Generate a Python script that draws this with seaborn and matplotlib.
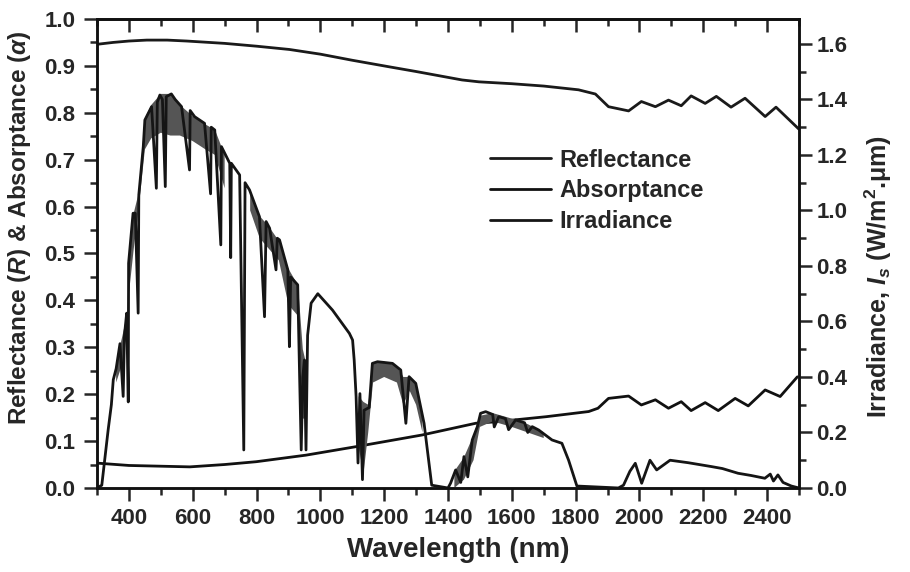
import numpy as np
import pandas as pd
import matplotlib
matplotlib.use("Agg")
import matplotlib.pyplot as plt
import seaborn as sns
from matplotlib.ticker import MultipleLocator

# reflectance / absorptance (left axis)
refl_wl = [300, 350, 400, 456, 520, 581, 700, 800, 903, 1000, 1100, 1216, 1300, 1444, 1497,
           1600, 1700, 1809, 1862, 1903, 1966, 2006, 2050, 2091, 2131, 2162, 2206, 2241,
           2287, 2331, 2394, 2428, 2500]
refl_val = [0.946, 0.950, 0.953, 0.955, 0.955, 0.953, 0.948, 0.942, 0.935, 0.925, 0.912,
            0.898, 0.888, 0.870, 0.866, 0.862, 0.857, 0.849, 0.840, 0.813, 0.804, 0.824,
            0.813, 0.827, 0.815, 0.836, 0.820, 0.835, 0.812, 0.831, 0.792, 0.812, 0.765]

abs_wl = [300, 400, 591, 700, 799, 955, 1111, 1319, 1487, 1549, 1708, 1841, 1870, 1903,
          1966, 2006, 2050, 2091, 2131, 2162, 2206, 2247, 2300, 2341, 2394, 2441, 2495]
abs_val = [0.053, 0.048, 0.045, 0.050, 0.056, 0.070, 0.088, 0.113, 0.138, 0.141, 0.152,
           0.163, 0.170, 0.191, 0.196, 0.177, 0.188, 0.170, 0.184, 0.165, 0.182, 0.165,
           0.191, 0.175, 0.209, 0.195, 0.237]

# solar irradiance (right axis)
irr_wl = [300, 315, 335, 345, 351, 360, 372, 382, 386, 393, 398, 399, 413, 420, 429, 431,
          445, 450, 471, 486, 489, 497, 505, 514, 517, 533, 545, 565, 590, 592, 606, 637,
          656, 658, 669, 688, 690, 716, 719, 721, 747, 760, 764, 778, 809, 825, 830, 841,
          861, 865, 872, 898, 903, 907, 929, 935, 940, 945, 950, 955, 960, 971, 992, 1038,
          1091, 1101, 1106, 1112, 1118, 1124, 1132, 1137, 1153, 1163, 1179, 1226, 1252,
          1268, 1278, 1299, 1325, 1349, 1400, 1408, 1424, 1440, 1450, 1462, 1476, 1492,
          1502, 1518, 1540, 1545, 1559, 1580, 1590, 1612, 1640, 1650, 1664, 1684, 1726,
          1757, 1778, 1804, 1934, 1950, 1970, 1987, 2007, 2033, 2054, 2096, 2153, 2226,
          2260, 2309, 2350, 2393, 2410, 2420, 2434, 2450, 2476, 2500]
irr_val = [0.0, 0.01, 0.21, 0.30, 0.39, 0.43, 0.52, 0.33, 0.55, 0.63, 0.31, 0.81, 0.99, 0.99,
           0.63, 1.056, 1.23, 1.326, 1.374, 1.08, 1.39, 1.416, 1.40, 1.086, 1.41, 1.42, 1.40,
           1.374, 1.146, 1.36, 1.338, 1.314, 1.06, 1.30, 1.29, 0.876, 1.23, 1.17, 0.83, 1.17,
           1.128, 0.137, 1.10, 1.074, 0.978, 0.617, 0.96, 0.936, 0.786, 0.90, 0.894, 0.786,
           0.509, 0.76, 0.732, 0.40, 0.137, 0.40, 0.461, 0.137, 0.55, 0.666, 0.70, 0.641,
           0.557, 0.533, 0.461, 0.33, 0.09, 0.34, 0.03, 0.28, 0.29, 0.449, 0.455, 0.449,
           0.425, 0.233, 0.401, 0.377, 0.233, 0.01, 0.0, 0.017, 0.065, 0.02, 0.113, 0.04,
           0.173, 0.221, 0.269, 0.275, 0.265, 0.22, 0.257, 0.25, 0.21, 0.245, 0.235, 0.20,
           0.221, 0.209, 0.173, 0.161, 0.10, 0.007, 0.0, 0.01, 0.06, 0.089, 0.017, 0.10,
           0.065, 0.10, 0.091, 0.077, 0.07, 0.053, 0.045, 0.035, 0.05, 0.025, 0.047, 0.02,
           0.007, 0.0]

# dense noisy parts of the spectrum (grey band), NaN = gap
band_wl = [360, 380, 395, 400, 415, 430, 450, 470, 500, 530, 560, 600, 640, 670, 690, 700,
           740, 780, 810, 840, 870, 900, 930, 945, 955,
           1000, 1120, 1135, 1150, 1165, 1200, 1240, 1260, 1280, 1300, 1320,
           1380, 1420, 1450, 1480, 1500, 1540, 1600, 1650, 1700]
band_top = [0.45, 0.55, 0.63, 0.81, 0.99, 1.06, 1.33, 1.38, 1.42, 1.42, 1.38, 1.34, 1.31,
            1.29, 1.23, 1.20,
            np.nan, 1.07, 0.98, 0.94, 0.89, 0.79, 0.73, 0.50, 0.45,
            np.nan, 0.33, 0.31, 0.30, 0.45, 0.455, 0.44, 0.40, 0.40, 0.377, 0.26,
            np.nan, 0.06, 0.11, 0.19, 0.26, 0.27, 0.25, 0.23, 0.20]
band_bot = [0.38, 0.45, 0.58, 0.70, 0.86, 1.00, 1.22, 1.26, 1.28, 1.27, 1.27, 1.25, 1.22,
            1.20, 1.12, 1.08,
            np.nan, 1.00, 0.90, 0.86, 0.82, 0.66, 0.62, 0.25, 0.25,
            np.nan, 0.15, 0.05, 0.20, 0.38, 0.40, 0.38, 0.30, 0.35, 0.30, 0.20,
            np.nan, 0.00, 0.03, 0.10, 0.22, 0.24, 0.22, 0.20, 0.18]

left_ticks = np.arange(0, 1.01, 0.1)
right_ticks = np.arange(0, 1.61, 0.2)

sns.set_style("ticks")
plt.rcParams['font.family'] = ['Liberation Sans', 'DejaVu Sans']
plt.rcParams['font.weight'] = 'bold'
plt.rcParams['mathtext.fontset'] = 'custom'
plt.rcParams['mathtext.rm'] = 'Liberation Sans:bold'
plt.rcParams['mathtext.it'] = 'Liberation Sans:italic:bold'

fig = plt.figure(figsize=(9.1, 5.72), dpi=100)
ax = fig.add_axes([0.1066, 0.1469, 0.7714, 0.8199])
ax2 = ax.twinx()

sns.lineplot(x=refl_wl, y=refl_val, ax=ax, color='#1a1a1a', linewidth=2,
             estimator=None, sort=False)
sns.lineplot(x=abs_wl, y=abs_val, ax=ax, color='#111111', linewidth=2,
             estimator=None, sort=False)

ax2.fill_between(band_wl, band_bot, band_top, color='#555555', linewidth=0)
sns.lineplot(x=irr_wl, y=irr_val, ax=ax2, color='#151515', linewidth=2,
             estimator=None, sort=False)

ax.set_xlim(300, 2500)
ax.set_ylim(0, 1.0)
ax2.set_ylim(0, 1.69)

ax.set_xticks(range(400, 2401, 200))
ax.xaxis.set_minor_locator(MultipleLocator(100))
ax.set_yticks(left_ticks)
ax.set_yticklabels([f"{v:.1f}" for v in left_ticks])
ax.yaxis.set_minor_locator(MultipleLocator(0.05))
ax2.set_yticks(right_ticks)
ax2.set_yticklabels([f"{v:.1f}" for v in right_ticks])
ax2.yaxis.set_minor_locator(MultipleLocator(0.1))

# bottom / left / right ticks point out, top ticks point in
ax.tick_params(axis='x', which='major', direction='out', length=9.5, width=1.8,
               labelsize=16, pad=5)
ax.tick_params(axis='x', which='minor', direction='out', length=5, width=1.8)
ax.tick_params(axis='y', which='major', direction='out', length=9.5, width=1.8,
               labelsize=16, pad=6)
ax.tick_params(axis='y', which='minor', direction='out', length=5, width=1.8)
ax2.tick_params(axis='y', which='major', direction='out', length=9.5, width=1.8,
                labelsize=16, pad=3)
ax2.tick_params(axis='y', which='minor', direction='out', length=5, width=1.8)

top = ax.secondary_xaxis('top')
top.set_xticks(range(400, 2401, 200))
top.xaxis.set_minor_locator(MultipleLocator(100))
top.tick_params(axis='x', which='major', direction='in', length=9.5, width=1.8,
                labeltop=False)
top.tick_params(axis='x', which='minor', direction='in', length=5, width=1.8)
top.spines['top'].set_linewidth(1.8)

for a in (ax, ax2):
    for s in a.spines.values():
        s.set_linewidth(1.8)
        s.set_color('#111111')

ax.set_xlabel('Wavelength (nm)', fontsize=20, fontweight='bold')
ax.xaxis.set_label_coords(0.515, -0.105)
ax.xaxis.label.set_verticalalignment('top')
ax.set_ylabel(r'Reflectance ($R$) & Absorptance ($\alpha$)', fontsize=17.5,
              fontweight='bold')
ax.yaxis.set_label_coords(-0.091, 0.554)
ax2.set_ylabel('Irradiance, $I_s$ (W/m$^2$.\u03bcm)', fontsize=18, fontweight='bold')
ax2.yaxis.set_label_coords(1.09, 0.452)

handles = [ax.lines[0], ax.lines[1], ax2.lines[0]]
ax.legend(handles, ['Reflectance', 'Absorptance', 'Irradiance'], loc='upper left',
          bbox_to_anchor=(0.543, 0.749), frameon=False, fontsize=17,
          handlelength=2.6, handletextpad=0.35, labelspacing=0.33, borderpad=0)

fig.savefig('out.png', dpi=100)
plt.close(fig)
